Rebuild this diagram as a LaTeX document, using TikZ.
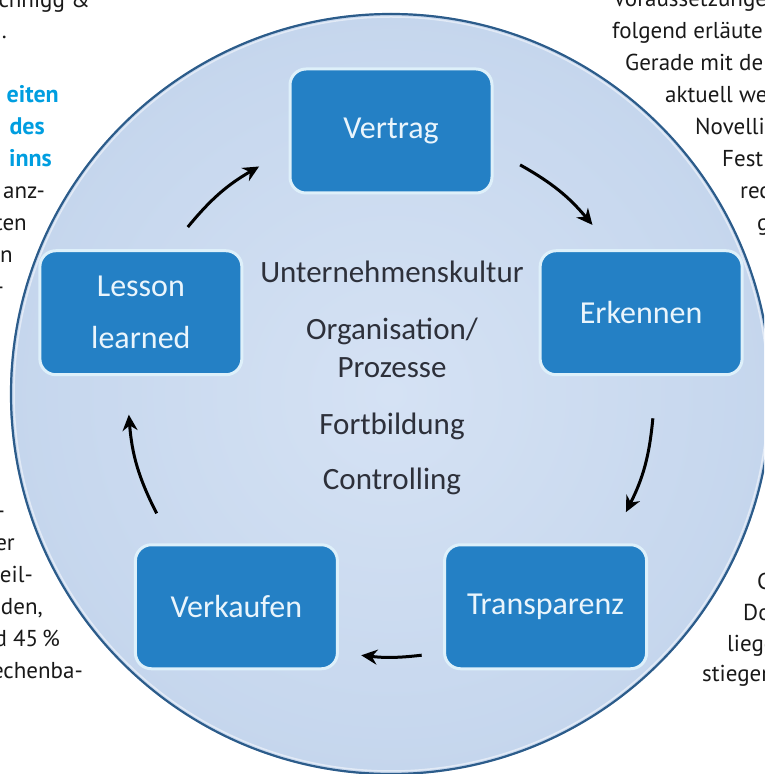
\documentclass[tikz,border=0pt]{standalone}
\usepackage{fontspec}
\setmainfont{Carlito}
\newfontfamily\magfont{PT Sans}
\usetikzlibrary{arrows.meta, positioning, calc}

\definecolor{ringblue}{RGB}{44,92,138}
\definecolor{discin}{RGB}{213,226,244}
\definecolor{discout}{RGB}{197,214,237}
\definecolor{boxblue}{RGB}{36,128,197}
\definecolor{boxedge}{RGB}{222,240,250}
\definecolor{boxtext}{RGB}{234,245,252}
\definecolor{headblue}{RGB}{0,158,224}
\definecolor{labelgray}{RGB}{45,48,58}

\tikzset{
    stage/.style={
        rectangle, rounded corners=16pt, minimum width=202pt, minimum height=124pt, text centered, align=center,
        draw=boxedge, line width=3pt, fill=boxblue, text=boxtext, font=\fontsize{32}{52}\selectfont
    },
    topic/.style={
        text=labelgray, align=center, inner sep=0pt, font=\fontsize{31}{38}\selectfont
    },
    arrow/.style={
        line width=3pt, -{Stealth[length=16pt, width=15pt]}
    },
    magtext/.style={
        inner sep=0pt, text=black!90, font=\magfont\fontsize{23}{32}\selectfont
    },
    maghead/.style={
        inner sep=0pt, text=headblue, font=\magfont\bfseries\fontsize{24}{32}\selectfont
    }
}

\begin{document}
\begin{tikzpicture}[x=1pt, y=1pt]
        \useasboundingbox (0,0) rectangle (764,774);
        \clip (0,0) rectangle (764,774);
        \coordinate (ctr) at (391,380);

        % Disc
        \shade[inner color=discin, outer color=discout] (ctr) circle (381);
        \draw[ringblue, line width=2.2pt] (ctr) circle (380);
        \draw[white, opacity=0.5, line width=1.5pt] (ctr) circle (377);

        % Stages of the cycle
        \foreach \name/\ang/\label in {vertrag/90/Vertrag, erkennen/18/Erkennen, transparenz/-54/Transparenz,
                                       verkaufen/-126/Verkaufen, lesson/162/{Lesson\\learned}}
            \node[stage] (\name) at ($(ctr)+(\ang:263)$) {\label};

        % Arrows between the stages
        \foreach \s/\e [count=\i] in {140.6/120.1, 60.6/40, -5.3/-26.7, -83.3/-96.5, -153/-175.5}{
            \coordinate (from\i) at ($(ctr)+(\s:263)$);
            \coordinate (to\i) at ($(ctr)+(\e:263)$);
            \pgfmathsetmacro{\bendang}{(\s-\e)/2}
            \draw[arrow] (from\i) to[bend left=\bendang] (to\i);
        }

        % Labels in the middle
        \node[topic, anchor=base] (kultur) at (392,491) {Unternehmenskultur};
        \node[topic] (orga) at (392,426) {Organisation/\\Prozesse};
        \node[topic, anchor=base] (bildung) at (392,339) {Fortbildung};
        \node[topic, anchor=base] (controlling) at (392,284) {Controlling};

        % Surrounding article text, left
        \node[magtext, anchor=base east] at (90,766) {chnigg \&};
        \node[magtext, anchor=base east] at (7,735) {.};
        \node[maghead, anchor=base east] at (59,671) {eiten};
        \node[maghead, anchor=base east] at (45,639) {des};
        \node[maghead, anchor=base east] at (52,607) {inns};
        \node[magtext, anchor=base east] at (45,575) {anz-};
        \node[magtext, anchor=base east] at (27,543) {ten};
        \node[magtext, anchor=base east] at (13,511) {n};
        \node[magtext, anchor=base east] at (4,479) {-};
        \node[magtext, anchor=base east] at (5,255) {-};
        \node[magtext, anchor=base east] at (15,223) {er};
        \node[magtext, anchor=base east] at (33,191) {eil-};
        \node[magtext, anchor=base east] at (43,159) {den,};
        \node[magtext, anchor=base east] at (60,127) {d 45\,\%};
        \node[magtext, anchor=base east] at (83,95) {echenba-};

        % Surrounding article text, right
        \node[magtext, anchor=base west] at (613,767) {Voraussetzunge};
        \node[magtext, anchor=base west] at (612,735) {folgend erläute};
        \node[magtext, anchor=base west] at (625,703) {Gerade mit de};
        \node[magtext, anchor=base west] at (665,671) {aktuell we};
        \node[magtext, anchor=base west] at (695,639) {Novelli};
        \node[magtext, anchor=base west] at (722,607) {Fest};
        \node[magtext, anchor=base west] at (740,575) {rec};
        \node[magtext, anchor=base west] at (757,543) {g};
        \node[magtext, anchor=base west] at (757,184) {C};
        \node[magtext, anchor=base west] at (743,153) {Do};
        \node[magtext, anchor=base west] at (727,122) {liege};
        \node[magtext, anchor=base west] at (702,92) {stiegen};
    \end{tikzpicture}
\end{document}
